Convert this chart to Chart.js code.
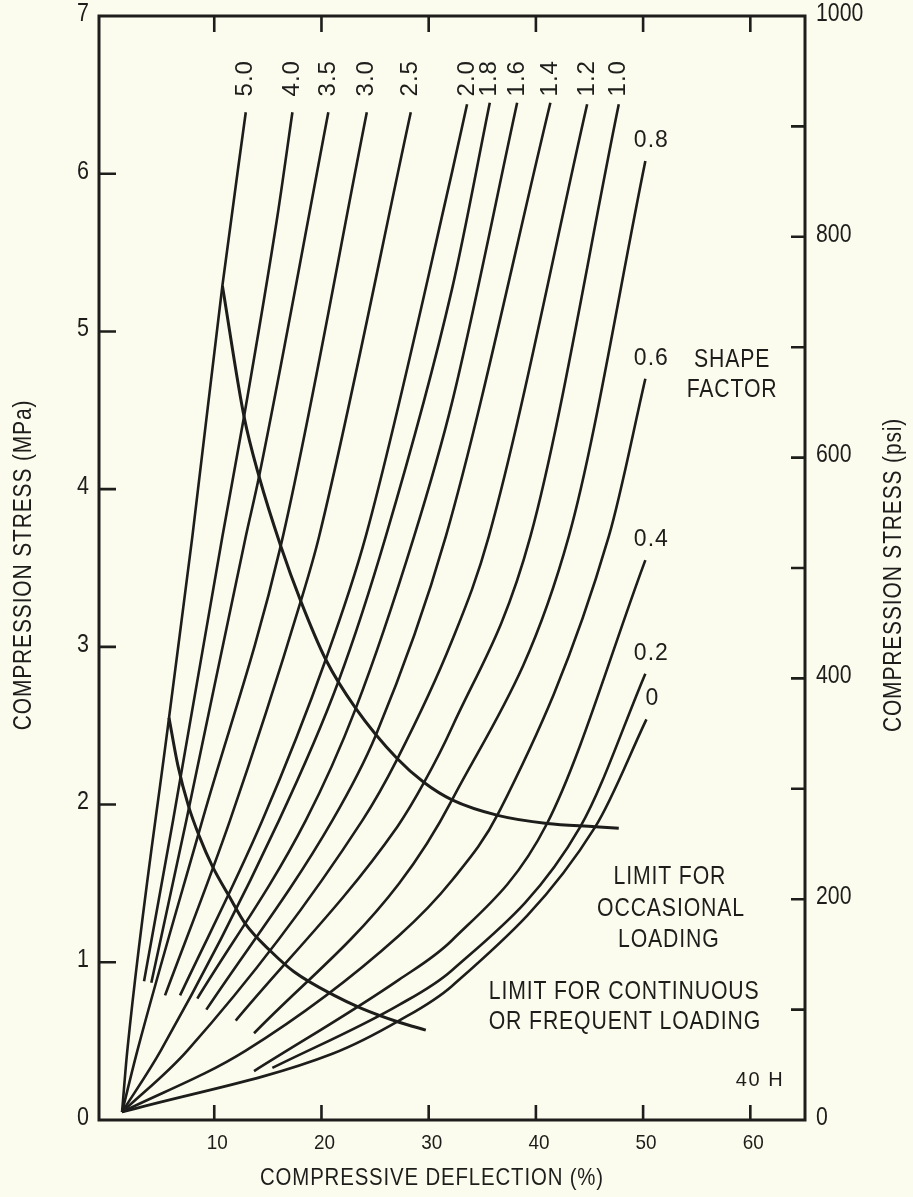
<!DOCTYPE html>
<html>
<head>
<meta charset="utf-8">
<title>Compressive stress vs deflection, 40 H</title>
<script src="https://cdn.jsdelivr.net/npm/chart.js@4.4.1/dist/chart.umd.min.js"></script>
<style>
  html, body { margin: 0; padding: 0; background: #fcfcee; }
  #wrap { width: 913px; height: 1197px; }
  canvas { display: block; }
</style>
</head>
<body>
<div id="wrap"><canvas id="chart" width="913" height="1197"></canvas></div>
<script>
// Shape factor of each curve, in drawing order
const shapeFactors = ['5.0', '4.0', '3.5', '3.0', '2.5', '2.0', '1.8', '1.6', '1.4', '1.2', '1.0', '0.8', '0.6', '0.4', '0.2', '0'];

// [compressive deflection %, compression stress MPa], listed from the lower end upward
const sf_5_0 = [[1.40, 0.05], [1.89, 0.44], [5.78, 2.55], [7.96, 3.70], [10.76, 5.29], [12.94, 6.39]];
const sf_4_0 = [[3.45, 0.88], [6.16, 1.90], [10.76, 3.70], [12.78, 4.46], [15.89, 5.73], [17.29, 6.39]];
const sf_3_5 = [[4.13, 0.87], [7.40, 1.90], [12.94, 3.70], [14.18, 4.08], [20.64, 6.39]];
const sf_3_0 = [[1.40, 0.05], [2.83, 0.44], [8.89, 1.90], [16.20, 3.64], [24.23, 6.39]];
const sf_2_5 = [[5.41, 0.79], [11.47, 1.90], [18.07, 3.29], [19.78, 3.70], [28.33, 6.39]];
const sf_2_0 = [[6.81, 0.79], [14.49, 1.90], [20.40, 2.92], [24.13, 3.70], [32.18, 6.01], [33.58, 6.44]];
const sf_1_8 = [[1.40, 0.05], [5.01, 0.44], [16.04, 1.90], [21.58, 2.78], [26.00, 3.70], [32.18, 5.27], [35.70, 6.45]];
const sf_1_6 = [[8.42, 0.77], [18.54, 1.90], [23.20, 2.61], [28.64, 3.70], [32.18, 4.55], [38.25, 6.45]];
const sf_1_4 = [[9.26, 0.70], [21.02, 1.90], [25.07, 2.44], [31.60, 3.70], [41.35, 6.45]];
const sf_1_2 = [[1.40, 0.05], [7.49, 0.44], [23.82, 1.90], [27.08, 2.29], [32.18, 3.04], [35.61, 3.70], [44.78, 6.44]];
const sf_1_0 = [[12.00, 0.63], [27.08, 1.86], [29.57, 2.14], [32.18, 2.49], [39.49, 3.70], [47.73, 6.44]];
const sf_0_8 = [[13.71, 0.55], [27.24, 1.50], [32.18, 2.03], [43.07, 3.70], [50.21, 6.08]];
const sf_0_6 = [[1.40, 0.05], [12.94, 0.44], [27.24, 1.17], [32.18, 1.52], [36.54, 1.95], [46.80, 3.70], [50.21, 4.70]];
const sf_0_4 = [[13.71, 0.31], [27.24, 0.89], [32.18, 1.14], [41.04, 1.88], [50.21, 3.55]];
const sf_0_2 = [[15.42, 0.33], [27.24, 0.73], [32.18, 0.95], [44.15, 1.86], [50.21, 2.83]];
const sf_0 = [[1.40, 0.05], [21.02, 0.42], [27.24, 0.63], [32.18, 0.85], [45.55, 1.86], [50.31, 2.54]];

// Loading limits crossing the family of curves
const limitOccasional = [[10.76, 5.29], [12.78, 4.46], [14.18, 4.08], [16.20, 3.64], [18.07, 3.29], [20.40, 2.92], [23.20, 2.61], [27.08, 2.29], [29.57, 2.14], [32.18, 2.03], [36.54, 1.93], [41.04, 1.88], [45.55, 1.86], [47.73, 1.85]];
const limitContinuous = [[5.78, 2.55], [6.60, 2.25], [7.60, 1.99], [8.60, 1.80], [9.82, 1.61], [11.38, 1.42], [12.94, 1.24], [15.27, 1.07], [17.44, 0.94], [21.18, 0.79], [23.67, 0.71], [27.24, 0.62], [29.73, 0.57]];

// Axis ticks
const deflectionTicks = [10, 20, 30, 40, 50, 60];
const mpaTicks = [0, 1, 2, 3, 4, 5, 6, 7];
const psiTicks = [0, 100, 200, 300, 400, 500, 600, 700, 800, 900, 1000];
const psiLabels = [0, 200, 400, 600, 800, 1000];

const curves = [sf_5_0, sf_4_0, sf_3_5, sf_3_0, sf_2_5, sf_2_0, sf_1_8, sf_1_6, sf_1_4, sf_1_2, sf_1_0, sf_0_8, sf_0_6, sf_0_4, sf_0_2, sf_0];

const INK = '#1d1d1b';
const PAPER = '#fcfcee';
const FACE = '"Liberation Sans", Arimo, "DejaVu Sans", sans-serif';

const toPoints = arr => arr.map(([x, y]) => ({ x, y }));

const datasets = curves.map((arr, i) => ({
  label: shapeFactors[i],
  data: toPoints(arr),
  borderColor: INK,
  borderWidth: 2.6,
  cubicInterpolationMode: 'monotone',
  pointRadius: 0,
  fill: false
}));
datasets.push({
  label: 'Limit for occasional loading',
  data: toPoints(limitOccasional),
  borderColor: INK, borderWidth: 3, cubicInterpolationMode: 'monotone', pointRadius: 0, fill: false
});
datasets.push({
  label: 'Limit for continuous or frequent loading',
  data: toPoints(limitContinuous),
  borderColor: INK, borderWidth: 3, cubicInterpolationMode: 'monotone', pointRadius: 0, fill: false
});

// Free text placed in data coordinates
const notes = [
  { text: 'SHAPE', x: 58.3, y: 4.82, align: 'center' },
  { text: 'FACTOR', x: 58.3, y: 4.63, align: 'center' },
  { text: 'LIMIT FOR', x: 52.5, y: 1.54, align: 'center' },
  { text: 'OCCASIONAL', x: 52.6, y: 1.34, align: 'center' },
  { text: 'LOADING', x: 52.4, y: 1.14, align: 'center' },
  { text: 'LIMIT FOR CONTINUOUS', x: 35.6, y: 0.81, align: 'left' },
  { text: 'OR FREQUENT LOADING', x: 35.6, y: 0.62, align: 'left' }
];

function say(c, s, x, y, o) {
  c.save();
  c.translate(x, y);
  if (o.rotate) c.rotate(o.rotate);
  c.scale(o.squeeze || 1, 1);
  c.font = `${o.size}px ${FACE}`;
  c.letterSpacing = (o.spacing || 0) + 'px';
  c.textAlign = o.align || 'center';
  c.textBaseline = o.baseline || 'middle';
  c.fillStyle = INK;
  c.fillText(s, 0, 0);
  c.restore();
}

const decor = {
  id: 'decor',
  beforeDraw(chart) {
    const c = chart.ctx;
    c.save();
    c.fillStyle = PAPER;
    c.fillRect(0, 0, chart.width, chart.height);
    c.restore();
  },
  afterDatasetsDraw(chart) {
    const c = chart.ctx, a = chart.chartArea;
    const xs = chart.scales.x, ys = chart.scales.y, ps = chart.scales.y2;
    c.save();
    c.strokeStyle = INK;
    c.lineWidth = 3;
    c.strokeRect(a.left, a.top, a.right - a.left, a.bottom - a.top);

    // inward tick marks on all four sides
    c.lineWidth = 2.6;
    c.beginPath();
    deflectionTicks.forEach(v => {
      const px = xs.getPixelForValue(v);
      c.moveTo(px, a.bottom); c.lineTo(px, a.bottom - 15);
      c.moveTo(px, a.top); c.lineTo(px, a.top + 16);
    });
    mpaTicks.forEach(v => {
      if (v <= ys.min || v >= ys.max) return;
      const py = ys.getPixelForValue(v);
      c.moveTo(a.left, py); c.lineTo(a.left + 17, py);
    });
    psiTicks.forEach(v => {
      if (v <= ps.min || v >= ps.max) return;
      const py = ps.getPixelForValue(v);
      c.moveTo(a.right, py); c.lineTo(a.right - 14, py);
    });
    c.stroke();

    // tick labels
    deflectionTicks.forEach(v => {
      say(c, String(v), xs.getPixelForValue(v) + 3, a.bottom + 23, { size: 21, squeeze: 0.9 });
    });
    mpaTicks.forEach(v => {
      say(c, String(v), a.left - 10, ys.getPixelForValue(v) - 2, { size: 25, squeeze: 0.86, align: 'right' });
    });
    psiLabels.forEach(v => {
      say(c, String(v), a.right + 11, ps.getPixelForValue(v) - 2, { size: 25, squeeze: 0.85, align: 'left' });
    });

    // axis titles
    const midY = (a.top + a.bottom) / 2;
    say(c, 'COMPRESSION STRESS (MPa)', 24, midY - 3, { size: 25, squeeze: 0.84, spacing: 1, rotate: -Math.PI / 2 });
    say(c, 'COMPRESSION STRESS (psi)', chart.width - 19, midY + 7, { size: 25, squeeze: 0.84, spacing: 1, rotate: -Math.PI / 2 });
    say(c, 'COMPRESSIVE DEFLECTION (%)', (a.left + a.right) / 2 - 20, a.bottom + 58, { size: 24, squeeze: 0.85, spacing: 1 });

    // shape-factor labels at the upper end of each curve
    curves.forEach((arr, i) => {
      const top = arr[arr.length - 1];
      const px = xs.getPixelForValue(top[0]);
      const py = ys.getPixelForValue(top[1]);
      if (top[1] > 6.3) {
        say(c, shapeFactors[i], px, ys.getPixelForValue(6.49), { size: 24, spacing: 1, rotate: -Math.PI / 2, align: 'left' });
      } else {
        say(c, shapeFactors[i], px + 6, py - 9, { size: 23, spacing: 1, baseline: 'bottom' });
      }
    });

    notes.forEach(n => {
      say(c, n.text, xs.getPixelForValue(n.x), ys.getPixelForValue(n.y), { size: 25, squeeze: 0.85, spacing: 1, align: n.align });
    });
    say(c, '40 H', xs.getPixelForValue(60.9), ys.getPixelForValue(0.25), { size: 20, spacing: 1.5 });
    c.restore();
  }
};

new Chart(document.getElementById('chart'), {
  type: 'line',
  data: { datasets },
  options: {
    responsive: false,
    animation: false,
    devicePixelRatio: 1,
    events: [],
    layout: { padding: { top: 16, left: 0, right: 0, bottom: 0 } },
    plugins: { legend: { display: false }, tooltip: { enabled: false }, title: { display: false } },
    elements: { line: { borderCapStyle: 'butt' } },
    scales: {
      x: {
        type: 'linear', position: 'bottom', min: -0.75, max: 65.1,
        afterBuildTicks: s => { s.ticks = deflectionTicks.map(v => ({ value: v })); },
        afterFit: s => { s.height = 77; },
        grid: { display: false, drawTicks: false },
        border: { display: false },
        ticks: { display: false }
      },
      y: {
        type: 'linear', position: 'left', min: 0, max: 7,
        afterBuildTicks: s => { s.ticks = mpaTicks.map(v => ({ value: v })); },
        afterFit: s => { s.width = 99; },
        grid: { display: false, drawTicks: false },
        border: { display: false },
        ticks: { display: false }
      },
      y2: {
        type: 'linear', position: 'right', min: 0, max: 1000,
        afterBuildTicks: s => { s.ticks = psiTicks.map(v => ({ value: v })); },
        afterFit: s => { s.width = 108; },
        grid: { display: false, drawTicks: false },
        border: { display: false },
        ticks: { display: false }
      }
    }
  },
  plugins: [decor]
});
</script>
</body>
</html>
